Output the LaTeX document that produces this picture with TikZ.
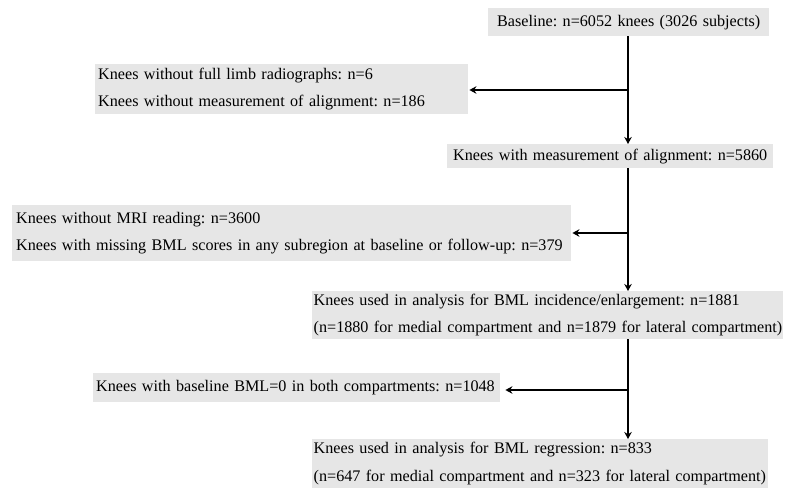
\documentclass[tikz,border=0pt]{standalone}
\usepackage{fontspec}
\setmainfont{Liberation Serif}
\usetikzlibrary{arrows.meta}
\definecolor{boxgray}{RGB}{230,230,230}
\tikzset{
  box/.style={fill=boxgray, draw=none, anchor=north west, inner xsep=3pt, inner ysep=0pt,
    font=\fontsize{16.15}{27.5}\selectfont\frenchspacing},
  flow/.style={line width=2.8pt, -{Stealth[length=7pt,width=7.5pt]}},
}
\begin{document}
\begin{tikzpicture}[x=1pt,y=-1pt]
\useasboundingbox (0,0) rectangle (786,491);
\node[box, align=center, text width=275pt, minimum height=28pt] (A) at (488,8)
  {\mbox{Baseline: n=6052 knees (3026 subjects)}};
\node[box, align=center, text width=320pt, minimum height=24pt] (B) at (447,144)
  {\mbox{Knees with measurement of alignment: n=5860}};
\node[box, align=left, text width=367pt, minimum height=50pt] (S1) at (95,64)
  {\mbox{Knees without full limb radiographs: n=6}\\\mbox{Knees without measurement of alignment: n=186}};
\node[box, align=left, text width=551pt, inner xsep=4pt, minimum height=56pt] (S2) at (12,205)
  {\mbox{Knees without MRI reading: n=3600}\\\mbox{Knees with missing BML scores in any subregion at baseline or follow-up: n=379}};
\node[box, align=left, text width=468pt, inner xsep=1.5pt, minimum height=48pt] (C) at (312,291)
  {\mbox{Knees used in analysis for BML incidence/enlargement: n=1881}\\\mbox{(n=1880 for medial compartment and n=1879 for lateral compartment)}};
\node[box, align=left, text width=401pt, minimum height=29pt] (S3) at (93,373)
  {\mbox{Knees with baseline BML=0 in both compartments: n=1048}};
\node[box, align=left, text width=453pt, inner xsep=1.5pt, minimum height=49pt] (D) at (312,439)
  {\mbox{Knees used in analysis for BML regression: n=833}\\\mbox{(n=647 for medial compartment and n=323 for lateral compartment)}};
\coordinate (b1) at (628,90);
\coordinate (b2) at (628,233);
\coordinate (b3) at (628,390);
\draw[flow] (A.south -| b1) -- (b1 |- B.north);
\draw[flow] (b1) -- ([xshift=1pt]S1.east |- b1);
\draw[flow] (B.south -| b2) -- (b2 |- C.north);
\draw[flow] (b2) -- ([xshift=1pt]S2.east |- b2);
\draw[flow] (C.south -| b3) -- (b3 |- D.north);
\draw[flow] (b3) -- ([xshift=5pt]S3.east |- b3);
\end{tikzpicture}
\end{document}
